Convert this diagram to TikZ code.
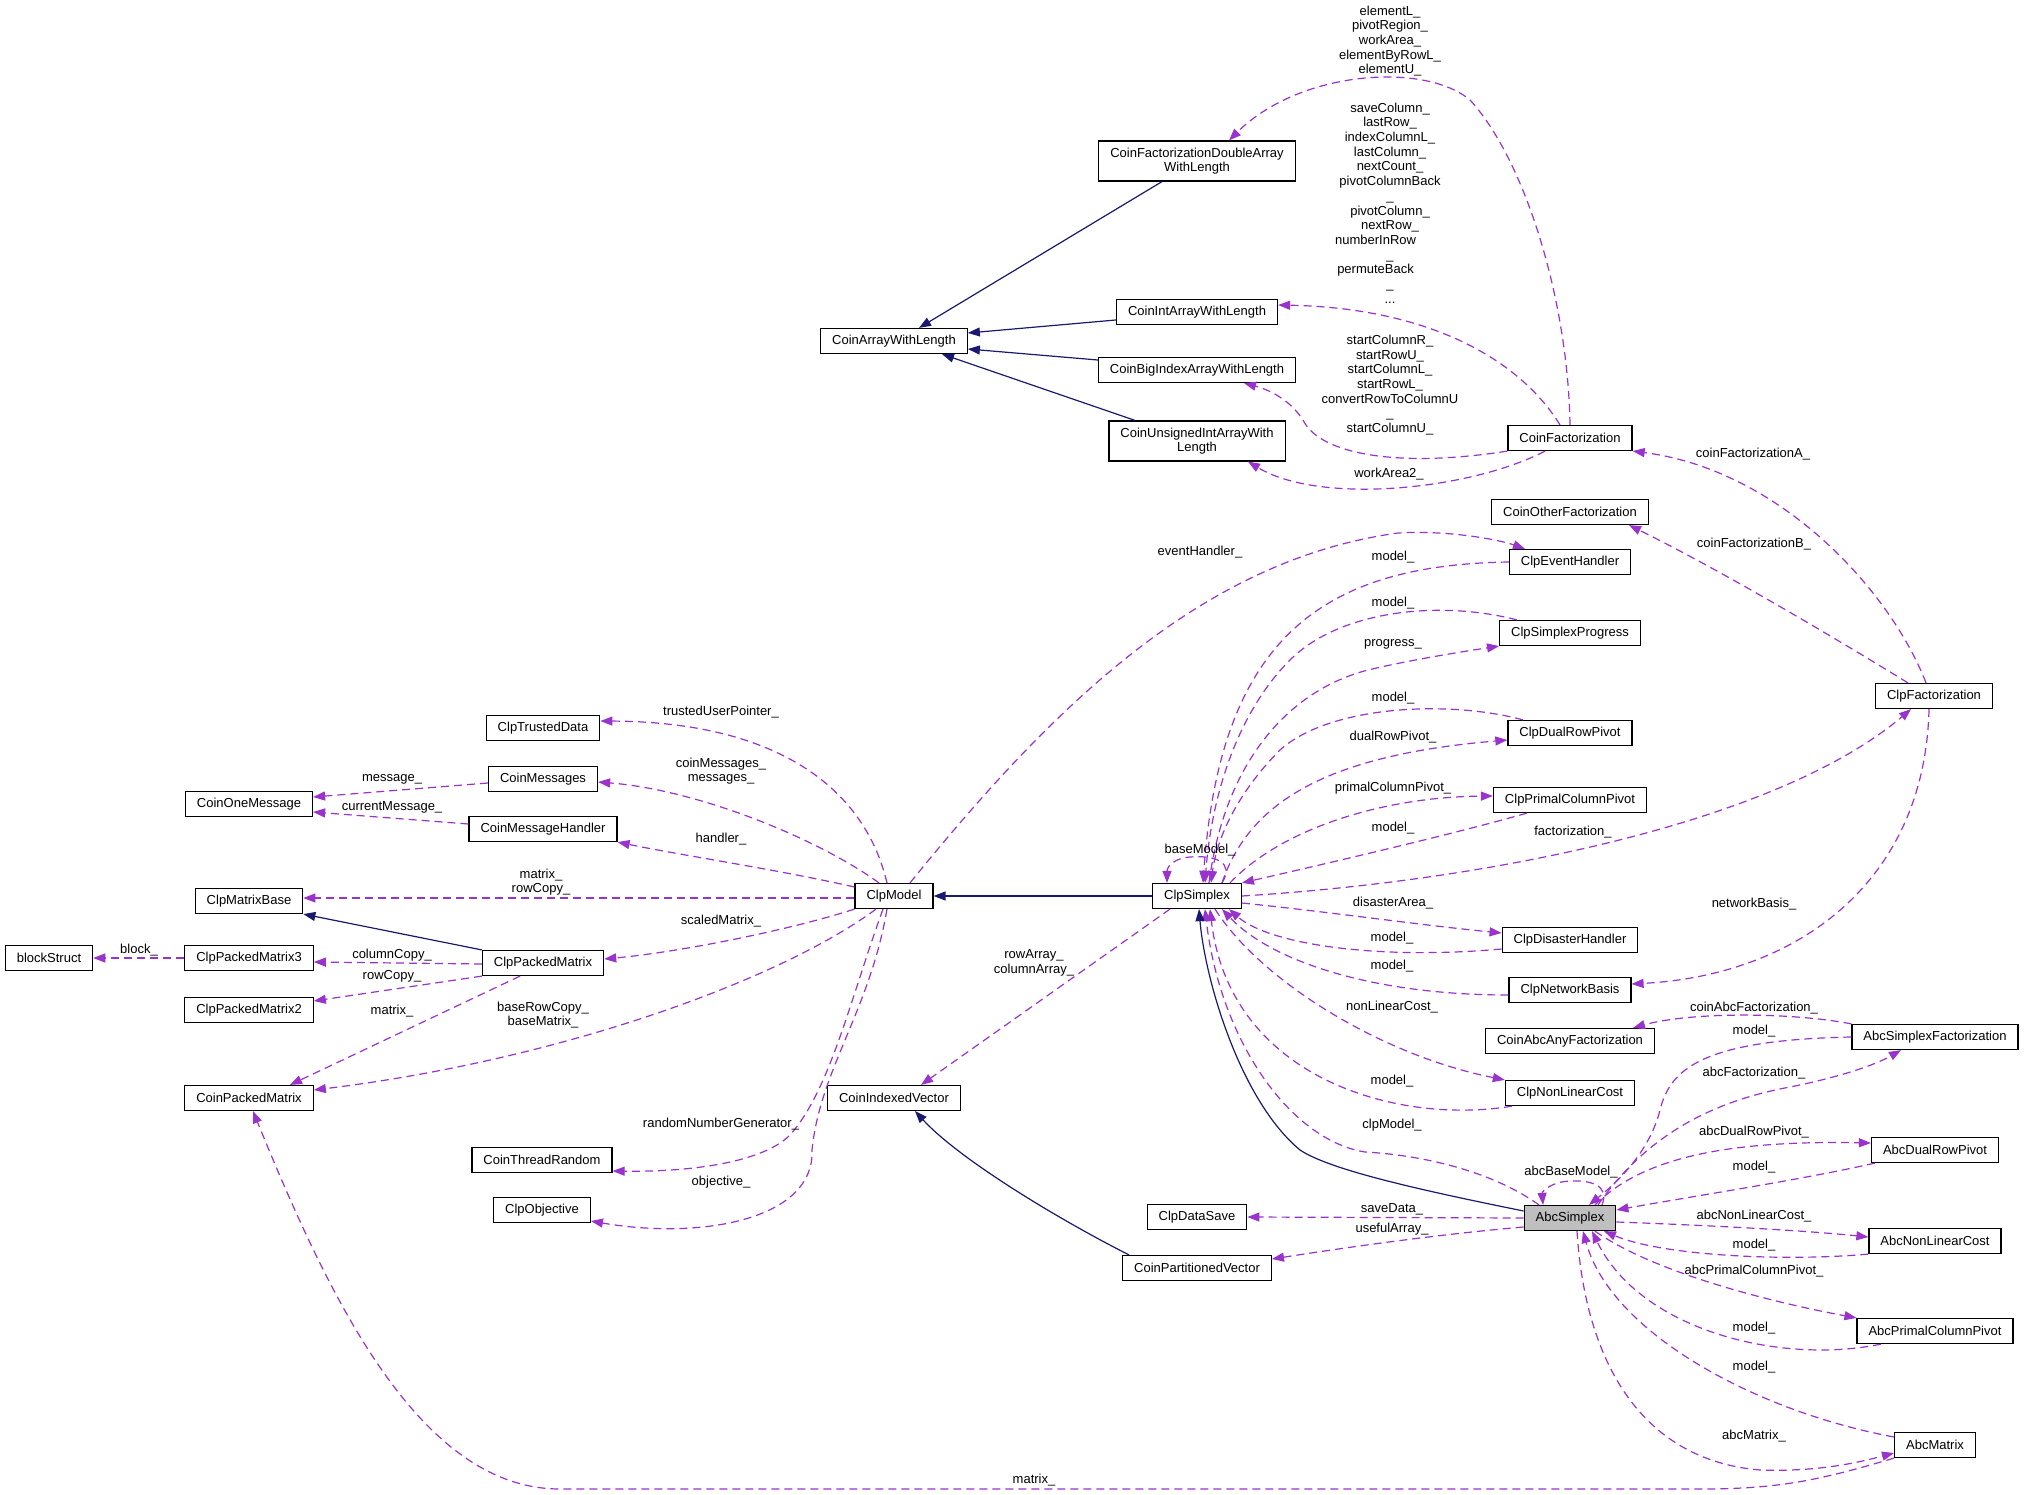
\documentclass[tikz,border=0pt]{standalone}
\usepackage{fontspec}
\setmainfont{Liberation Sans}
\usetikzlibrary{arrows.meta}
\definecolor{usecol}{RGB}{154,50,205}
\definecolor{inhcol}{RGB}{25,25,112}
\definecolor{selcol}{RGB}{191,191,191}

\begin{document}
\begin{tikzpicture}[x=1pt, y=-1pt,
    every node/.style={font={\fontsize{13pt}{14.7pt}\selectfont}},
    cls/.style={draw=black, line width=1.2pt, fill=white, inner xsep=11.5pt, inner ysep=0pt, minimum height=25pt, align=center},
    cls2/.style={cls, minimum height=40pt},
    usage/.style={draw=usecol, line width=1.2pt, dash pattern=on 8pt off 5pt, -{Triangle[length=12pt,width=9pt]}},
    inherit/.style={draw=inhcol, line width=1.2pt, -{Triangle[length=12pt,width=9pt]}},
    lbl/.style={inner sep=0pt, align=center}]

    \fill[white] (0,0) rectangle (2024,1495);
    \useasboundingbox (0,0) rectangle (2024,1495);

    % === Classes ===
    \node[cls2] (CFDAWL) at (1197,161) {CoinFactorizationDoubleArray\\WithLength};
    \node[cls] (CAWL) at (894,341) {CoinArrayWithLength};
    \node[cls] (CIAWL) at (1197,312) {CoinIntArrayWithLength};
    \node[cls] (CBIAWL) at (1197,370) {CoinBigIndexArrayWithLength};
    \node[cls2] (CUIAWL) at (1197,441) {CoinUnsignedIntArrayWith\\Length};
    \node[cls] (CF) at (1570,438) {CoinFactorization};
    \node[cls] (COF) at (1570,512) {CoinOtherFactorization};
    \node[cls] (ClpEH) at (1570,562) {ClpEventHandler};
    \node[cls] (ClpSP) at (1570,633) {ClpSimplexProgress};
    \node[cls] (ClpDRP) at (1570,733) {ClpDualRowPivot};
    \node[cls] (ClpPCP) at (1570,800) {ClpPrimalColumnPivot};
    \node[cls] (ClpF) at (1934,696) {ClpFactorization};
    \node[cls] (ClpDH) at (1570,940) {ClpDisasterHandler};
    \node[cls] (ClpNB) at (1570,990) {ClpNetworkBasis};
    \node[cls] (CAAF) at (1570,1041) {CoinAbcAnyFactorization};
    \node[cls] (AbcSF) at (1935,1037) {AbcSimplexFactorization};
    \node[cls] (ClpNLC) at (1570,1093) {ClpNonLinearCost};
    \node[cls] (AbcDRP) at (1935,1150) {AbcDualRowPivot};
    \node[cls, fill=selcol] (AbcS) at (1570,1218) {AbcSimplex};
    \node[cls] (AbcNLC) at (1935,1241) {AbcNonLinearCost};
    \node[cls] (AbcPCP) at (1935,1331) {AbcPrimalColumnPivot};
    \node[cls] (AbcM) at (1935,1445) {AbcMatrix};
    \node[cls] (ClpS) at (1197,896) {ClpSimplex};
    \node[cls] (ClpM) at (894,896) {ClpModel};
    \node[cls] (CIV) at (894,1098) {CoinIndexedVector};
    \node[cls] (ClpDS) at (1197,1217) {ClpDataSave};
    \node[cls] (CPV) at (1197,1268) {CoinPartitionedVector};
    \node[cls] (ClpTD) at (543,728) {ClpTrustedData};
    \node[cls] (CMsgs) at (543,779) {CoinMessages};
    \node[cls] (COM) at (249,804) {CoinOneMessage};
    \node[cls] (CMH) at (543,829) {CoinMessageHandler};
    \node[cls] (ClpMB) at (249,901) {ClpMatrixBase};
    \node[cls] (BS) at (49,958) {blockStruct};
    \node[cls] (ClpPM3) at (249,958) {ClpPackedMatrix3};
    \node[cls] (ClpPM) at (543,963) {ClpPackedMatrix};
    \node[cls] (ClpPM2) at (249,1010) {ClpPackedMatrix2};
    \node[cls] (CPM) at (249,1098) {CoinPackedMatrix};
    \node[cls] (CTR) at (542,1160) {CoinThreadRandom};
    \node[cls] (ClpObj) at (542,1210) {ClpObjective};

    % === Array classes ===
    \draw[inherit] ([xshift=-35pt]CFDAWL.south) -- ([xshift=25pt]CAWL.north);
    \draw[inherit] ([yshift=-8pt]CIAWL.west) -- ([yshift=8pt]CAWL.east);
    \draw[inherit] ([yshift=10pt]CBIAWL.west) -- ([yshift=-8pt]CAWL.east);
    \draw[inherit] ([xshift=-62pt]CUIAWL.north) -- ([xshift=48pt]CAWL.south);

    \draw[usage] (CF.north) .. controls (1568,300) and (1525,160) .. (1470,100)
        .. controls (1425,62) and (1300,70) .. ([xshift=32pt]CFDAWL.north);
    \draw[usage] ([xshift=-10pt]CF.north) .. controls (1520,360) and (1430,308) .. ([yshift=7pt]CIAWL.east);
    \draw[usage] (CF.south west) .. controls (1400,468) and (1320,455) .. (1303,420)
        .. controls (1290,400) and (1270,390) .. ([xshift=47pt]CBIAWL.south);
    \draw[usage] ([xshift=-25pt]CF.south) .. controls (1470,490) and (1320,505) .. ([xshift=51pt]CUIAWL.south);

    \node[lbl] (lElemL) at (1390,41) {elementL\_\\pivotRegion\_\\workArea\_\\elementByRowL\_\\elementU\_};
    \node[lbl] (lSaveCol) at (1390,203) {saveColumn\_\\lastRow\_\\indexColumnL\_\\lastColumn\_\\nextCount\_\\pivotColumnBack\\\_\\pivotColumn\_\\nextRow\_\\numberInRow\hphantom{\_\_\_\_}\\\_\\permuteBack\hphantom{\_\_\_\_}\\\_\\...};
    \node[lbl] (lStartColR) at (1390,385) {startColumnR\_\\startRowU\_\\startColumnL\_\\startRowL\_\\convertRowToColumnU\\\_\\startColumnU\_};
    \node[lbl] (lWorkArea2) at (1389,474) {workArea2\_};

    % === Factorization ===
    \draw[usage] ([xshift=-8pt]ClpF.north) .. controls (1890,590) and (1780,470) .. (CF.south east);
    \draw[usage] ([xshift=-26pt]ClpF.north) .. controls (1830,635) and (1720,570) .. ([xshift=59pt]COF.south);
    \draw[usage] (ClpS.east) .. controls (1500,880) and (1780,820) .. ([xshift=-23pt]ClpF.south);
    \draw[usage] ([xshift=-5pt]ClpF.south) .. controls (1925,880) and (1800,975) .. ([yshift=6pt]ClpNB.east);

    \node[lbl] (lCoinFA) at (1753,454) {coinFactorizationA\_};
    \node[lbl] (lCoinFB) at (1754,544) {coinFactorizationB\_};
    \node[lbl] (lFact) at (1573,832) {factorization\_};
    \node[lbl] (lNetB) at (1754,904) {networkBasis\_};

    % === ClpSimplex ===
    \draw[usage] ([xshift=16pt]ClpM.north) .. controls (1050,710) and (1200,560) .. (1398,533)
        .. controls (1450,530) and (1500,540) .. ([xshift=-45pt]ClpEH.north);
    \draw[usage] (ClpEH.west) .. controls (1320,565) and (1220,640) .. ([xshift=6pt]ClpS.north);
    \draw[usage] ([xshift=-53pt]ClpSP.north) .. controls (1440,600) and (1340,610) .. (1290,660)
        .. controls (1240,710) and (1212,790) .. ([xshift=8pt]ClpS.north);
    \draw[usage] ([xshift=12pt]ClpS.north) .. controls (1225,760) and (1290,690) .. (1368,670)
        .. controls (1410,660) and (1460,652) .. (ClpSP.south west);
    \draw[usage] ([xshift=-47pt]ClpDRP.north) .. controls (1450,700) and (1330,705) .. (1280,750)
        .. controls (1245,785) and (1218,830) .. ([xshift=14pt]ClpS.north);
    \draw[usage] ([xshift=25pt]ClpS.north) .. controls (1250,800) and (1330,755) .. ([yshift=-7pt]ClpDRP.west);
    \draw[usage] ([xshift=33pt]ClpS.north) .. controls (1280,830) and (1380,797) .. ([yshift=4pt]ClpPCP.west);
    \draw[usage] ([xshift=-43pt]ClpPCP.south) .. controls (1450,835) and (1320,865) .. (ClpS.north east);
    \draw[usage] ([xshift=25pt]ClpS.north) .. controls (1235,862) and (1215,855) .. (1190,857)
        .. controls (1175,858) and (1167,866) .. ([xshift=-30pt]ClpS.north);
    \draw[usage] ([yshift=-7pt]ClpS.east) .. controls (1330,912) and (1420,925) .. ([yshift=7pt]ClpDH.west);
    \draw[usage] ([yshift=-9pt]ClpDH.west) .. controls (1380,960) and (1270,945) .. ([xshift=32pt]ClpS.south);
    \draw[usage] ([yshift=-5pt]ClpNB.west) .. controls (1370,995) and (1270,960) .. ([xshift=25pt]ClpS.south);
    \draw[usage] ([xshift=18pt]ClpS.south) .. controls (1260,980) and (1380,1055) .. (ClpNLC.north west);
    \draw[usage] ([xshift=-58pt]ClpNLC.south) .. controls (1400,1125) and (1230,1080) .. ([xshift=13pt]ClpS.south);
    \draw[usage] ([xshift=-31pt]AbcS.north) .. controls (1490,1170) and (1420,1155) .. (1365,1152)
        .. controls (1290,1140) and (1220,1040) .. ([xshift=8pt]ClpS.south);
    \draw[inherit] ([yshift=7pt]AbcS.west) .. controls (1420,1190) and (1330,1170) .. (1300,1150)
        .. controls (1240,1100) and (1205,980) .. ([xshift=2pt]ClpS.south);
    \draw[inherit] (ClpS.west) -- (ClpM.east);
    \draw[usage] ([xshift=-27pt]ClpS.south) -- ([xshift=27pt]CIV.north);
    \draw[inherit] ([xshift=-68pt]CPV.north) .. controls (1060,1220) and (960,1160) .. ([xshift=21pt]CIV.south);

    \node[lbl] (lEvH) at (1200,552) {eventHandler\_};
    \node[lbl] (lModEH) at (1393,557) {model\_};
    \node[lbl] (lModSP) at (1393,603) {model\_};
    \node[lbl] (lProg) at (1393,644) {progress\_};
    \node[lbl] (lModDRP) at (1393,698) {model\_};
    \node[lbl] (lDRP) at (1393,737) {dualRowPivot\_};
    \node[lbl] (lPCP) at (1393,788) {primalColumnPivot\_};
    \node[lbl] (lModPCP) at (1393,828) {model\_};
    \node[lbl] (lBaseM) at (1200,850) {baseModel\_};
    \node[lbl] (lDisA) at (1393,903) {disasterArea\_};
    \node[lbl] (lModDH) at (1392,938) {model\_};
    \node[lbl] (lModNB) at (1392,966) {model\_};
    \node[lbl] (lNLC) at (1392,1007) {nonLinearCost\_};
    \node[lbl] (lModNLC) at (1392,1081) {model\_};
    \node[lbl] (lClpM) at (1392,1125) {clpModel\_};
    \node[lbl] (lRowA) at (1034,963) {rowArray\_\\columnArray\_};

    % === AbcSimplex ===
    \draw[usage] (AbcS.west) -- (ClpDS.east);
    \draw[usage] ([yshift=-9pt]AbcS.west) .. controls (1430,1235) and (1330,1250) .. ([yshift=9pt]CPV.east);
    \draw[usage] (AbcSF.north west) .. controls (1790,1012) and (1690,1012) .. ([xshift=63pt]CAAF.north);
    \draw[usage] (AbcSF.west) .. controls (1700,1040) and (1670,1070) .. (1660,1110)
        .. controls (1650,1150) and (1620,1180) .. ([xshift=19pt]AbcS.north);
    \draw[usage] ([xshift=28pt]AbcS.north) .. controls (1650,1130) and (1720,1100) .. (1790,1087)
        .. controls (1840,1077) and (1875,1065) .. ([xshift=-34pt]AbcSF.south);
    \draw[usage] ([xshift=32pt]AbcS.north) .. controls (1610,1185) and (1590,1180) .. (1570,1181)
        .. controls (1550,1182) and (1542,1192) .. ([xshift=-27pt]AbcS.north);
    \draw[usage] ([xshift=25pt]AbcS.north) .. controls (1640,1160) and (1720,1140) .. ([yshift=7pt]AbcDRP.west);
    \draw[usage] ([xshift=-60pt]AbcDRP.south) .. controls (1800,1180) and (1700,1195) .. ([yshift=8pt]AbcS.east);
    \draw[usage] ([yshift=-4pt]AbcS.east) .. controls (1700,1225) and (1800,1230) .. ([yshift=4pt]AbcNLC.west);
    \draw[usage] (AbcNLC.south west) .. controls (1780,1262) and (1660,1255) .. ([xshift=34pt]AbcS.south);
    \draw[usage] ([xshift=25pt]AbcS.south) .. controls (1650,1270) and (1760,1300) .. (AbcPCP.north west);
    \draw[usage] ([xshift=-54pt]AbcPCP.south) .. controls (1780,1365) and (1640,1330) .. ([xshift=22pt]AbcS.south);
    \draw[usage] ([yshift=8pt]AbcM.west) .. controls (1750,1410) and (1610,1330) .. ([xshift=13pt]AbcS.south);
    \draw[usage] ([xshift=7pt]AbcS.south) .. controls (1585,1360) and (1640,1460) .. (1760,1470)
        .. controls (1820,1472) and (1860,1462) .. ([yshift=-8pt]AbcM.west);
    \draw[usage] (AbcM.south west) .. controls (1820,1480) and (1780,1489) .. (1700,1489) -- (560,1489)
        .. controls (420,1489) and (330,1300) .. ([xshift=4pt]CPM.south);

    \node[lbl] (lCoinAbcF) at (1754,1008) {coinAbcFactorization\_};
    \node[lbl] (lModSF) at (1754,1031) {model\_};
    \node[lbl] (lAbcF) at (1754,1073) {abcFactorization\_};
    \node[lbl] (lAbcDRP) at (1754,1132) {abcDualRowPivot\_};
    \node[lbl] (lModADRP) at (1754,1167) {model\_};
    \node[lbl] (lAbcBase) at (1571,1172) {abcBaseModel\_};
    \node[lbl] (lSaveD) at (1392,1209) {saveData\_};
    \node[lbl] (lUseful) at (1392,1229) {usefulArray\_};
    \node[lbl] (lAbcNLC) at (1754,1216) {abcNonLinearCost\_};
    \node[lbl] (lModANLC) at (1754,1245) {model\_};
    \node[lbl] (lAbcPCP) at (1754,1271) {abcPrimalColumnPivot\_};
    \node[lbl] (lModAPCP) at (1754,1328) {model\_};
    \node[lbl] (lModAM) at (1754,1367) {model\_};
    \node[lbl] (lAbcM) at (1754,1436) {abcMatrix\_};
    \node[lbl] (lMatAM) at (1034,1480) {matrix\_};

    % === ClpModel ===
    \draw[usage] ([xshift=-7pt]ClpM.north) .. controls (865,790) and (780,722) .. ([yshift=7pt]ClpTD.east);
    \draw[usage] ([xshift=-15pt]ClpM.north) .. controls (820,840) and (700,790) .. ([yshift=-3pt]CMsgs.east);
    \draw[usage] ([yshift=9pt]ClpM.west) .. controls (780,870) and (680,855) .. (CMH.south east);
    \draw[usage] ([yshift=-2pt]ClpM.west) -- ([yshift=3pt]ClpMB.east);
    \draw[usage] (ClpM.south west) .. controls (790,930) and (680,952) .. ([yshift=4pt]ClpPM.east);
    \draw[usage] ([xshift=-18pt]ClpM.south) .. controls (780,980) and (560,1060) .. ([yshift=8pt]CPM.east);
    \draw[usage] ([xshift=-11pt]ClpM.south) .. controls (850,1000) and (830,1090) .. (790,1135)
        .. controls (760,1165) and (680,1172) .. ([yshift=-11pt]CTR.east);
    \draw[usage] ([xshift=-7pt]ClpM.south) .. controls (870,1010) and (820,1070) .. (812,1150)
        .. controls (815,1220) and (700,1240) .. ([yshift=-11pt]ClpObj.east);

    \node[lbl] (lTrust) at (721,712) {trustedUserPointer\_};
    \node[lbl] (lCoinMsg) at (721,771) {coinMessages\_\\messages\_};
    \node[lbl] (lHandler) at (721,839) {handler\_};
    \node[lbl] (lScaled) at (721,921) {scaledMatrix\_};
    \node[lbl] (lRandom) at (721,1124) {randomNumberGenerator\_};
    \node[lbl] (lObj) at (721,1182) {objective\_};
    \node[lbl] (lMatRow) at (541,882) {matrix\_\\rowCopy\_};
    \node[lbl] (lBaseRow) at (543,1015) {baseRowCopy\_\\baseMatrix\_};

    % === Packed matrices and messages ===
    \draw[usage] ([yshift=-4pt]CMsgs.west) -- ([yshift=7pt]COM.east);
    \draw[usage] ([yshift=5pt]CMH.west) -- ([yshift=-8pt]COM.east);
    \draw[usage] (ClpPM3.west) -- (BS.east);
    \draw[usage] ([yshift=-1pt]ClpPM.west) -- ([yshift=-4pt]ClpPM3.east);
    \draw[usage] (ClpPM.south west) -- ([yshift=9pt]ClpPM2.east);
    \draw[usage] ([xshift=-23pt]ClpPM.south) -- ([xshift=41pt]CPM.north);
    \draw[inherit] (ClpPM.north west) -- (ClpMB.south east);

    \node[lbl] (lMsg) at (392,779) {message\_};
    \node[lbl] (lCurMsg) at (392,807) {currentMessage\_};
    \node[lbl] (lBlock) at (139,950) {block\_};
    \node[lbl] (lColCopy) at (392,955) {columnCopy\_};
    \node[lbl] (lRowCopy) at (392,976) {rowCopy\_};
    \node[lbl] (lMatPM) at (392,1011) {matrix\_};

\end{tikzpicture}
\end{document}
